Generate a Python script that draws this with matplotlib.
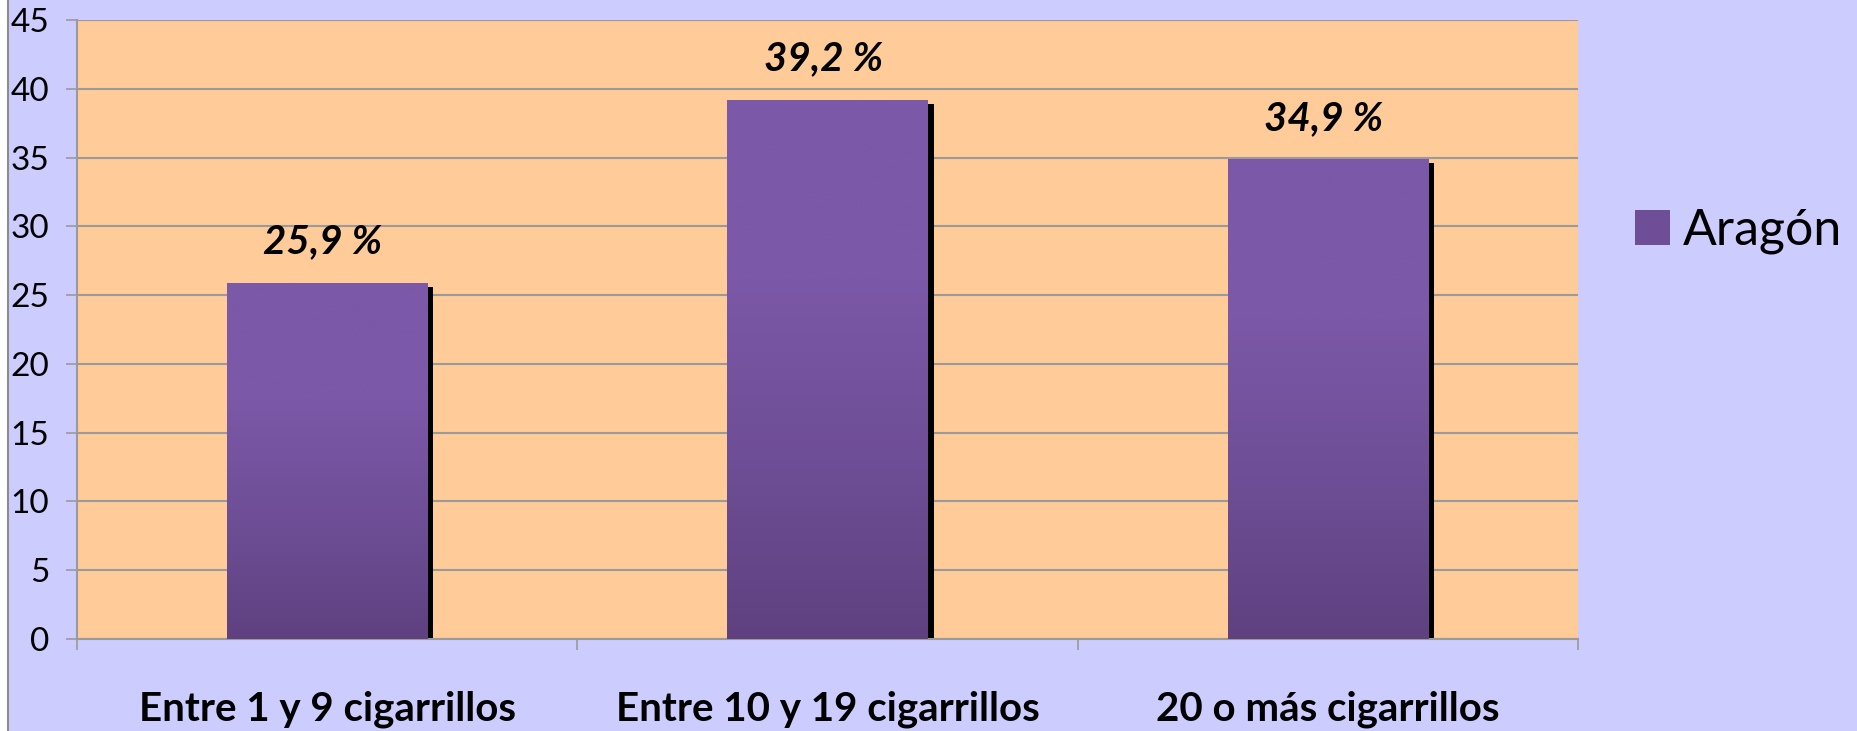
import numpy as np
import matplotlib
matplotlib.use("Agg")
import matplotlib.pyplot as plt
from matplotlib.colors import LinearSegmentedColormap
from matplotlib.patches import Rectangle, Patch
from matplotlib.transforms import ScaledTranslation

# ---- data ----
categories = ["Entre 1 y 9 cigarrillos", "Entre 10 y 19 cigarrillos", "20 o más cigarrillos"]
values = [25.9, 39.2, 34.9]
value_labels = ["25,9 %", "39,2 %", "34,9 %"]
series_name = "Aragón"
y_ticks = [0, 5, 10, 15, 20, 25, 30, 35, 40, 45]

FIG_BG = "#CCCCFF"
PLOT_BG = "#FFCC99"
GRID = "#9A9A9A"
BAR_TOP = "#7C58A8"
BAR_BOT = "#5F4180"

plt.rcParams["font.family"] = ["Lato", "DejaVu Sans"]

fig = plt.figure(figsize=(18.57, 7.31), dpi=100, facecolor=FIG_BG)
ax = fig.add_axes([77 / 1857, 92 / 731, (1578 - 77) / 1857, (639 - 20) / 731])
ax.set_facecolor(PLOT_BG)

# left white strip + border line of the chart frame
fig.patches.append(Rectangle((0, 0), 7 / 1857, 1, transform=fig.transFigure,
                             facecolor="white", edgecolor="none", zorder=0))
fig.add_artist(plt.Line2D([8 / 1857, 8 / 1857], [0, 1], transform=fig.transFigure,
                          color="#8C8C8C", lw=1.5))

x = np.arange(len(categories))
width = 0.4

# shadow (offset to the right and slightly down)
shadow_tr = ax.transData + ScaledTranslation(0.06, -0.04, fig.dpi_scale_trans)
ax.bar(x, values, width, color="black", transform=shadow_tr, zorder=2)

bars = ax.bar(x, values, width, color=BAR_BOT, zorder=3)

cmap = LinearSegmentedColormap.from_list("bar", [BAR_BOT, "#6E4E96", BAR_TOP, BAR_TOP])
grad = np.linspace(0, 1, 256).reshape(-1, 1)
for b in bars:
    x0, w, h = b.get_x(), b.get_width(), b.get_height()
    im = ax.imshow(grad, cmap=cmap, origin="lower", aspect="auto",
                   extent=[x0, x0 + w, 0, h], zorder=4)
    im.set_clip_path(b)

for xi, v, lab in zip(x, values, value_labels):
    ax.annotate(lab, (xi, v), xytext=(-3, 21), textcoords="offset points",
                ha="center", va="baseline", fontsize=29, fontweight="bold",
                fontstyle="italic", color="black", zorder=5)

ax.set_xlim(-0.5, len(categories) - 0.5)
ax.set_ylim(0, 45)
ax.set_yticks(y_ticks)
ax.yaxis.grid(True, color=GRID, lw=1.5)
ax.set_axisbelow(True)

ax.set_xticks(x)
ax.set_xticklabels(categories, fontsize=29, fontweight="bold")
ax.set_xticks(np.arange(len(categories) + 1) - 0.5, minor=True)
ax.tick_params(axis="x", which="major", length=0, pad=37)
ax.tick_params(axis="x", which="minor", length=8, color=GRID, width=1.2)
ax.tick_params(axis="y", length=8, color=GRID, width=1.2, labelsize=24, pad=12)

for s in ["top", "right"]:
    ax.spines[s].set_visible(False)
for s in ["left", "bottom"]:
    ax.spines[s].set_color(GRID)
    ax.spines[s].set_linewidth(1.5)

handle = Patch(facecolor="#6E4E96", edgecolor="none")
fig.legend([handle], [series_name], loc="center left",
           bbox_to_anchor=(1635 / 1857, 1 - 231 / 731), frameon=False,
           fontsize=36, handlelength=0.7, handleheight=0.7, handletextpad=0.25,
           borderpad=0, borderaxespad=0)

fig.savefig("out.png", dpi=100, facecolor=FIG_BG)
